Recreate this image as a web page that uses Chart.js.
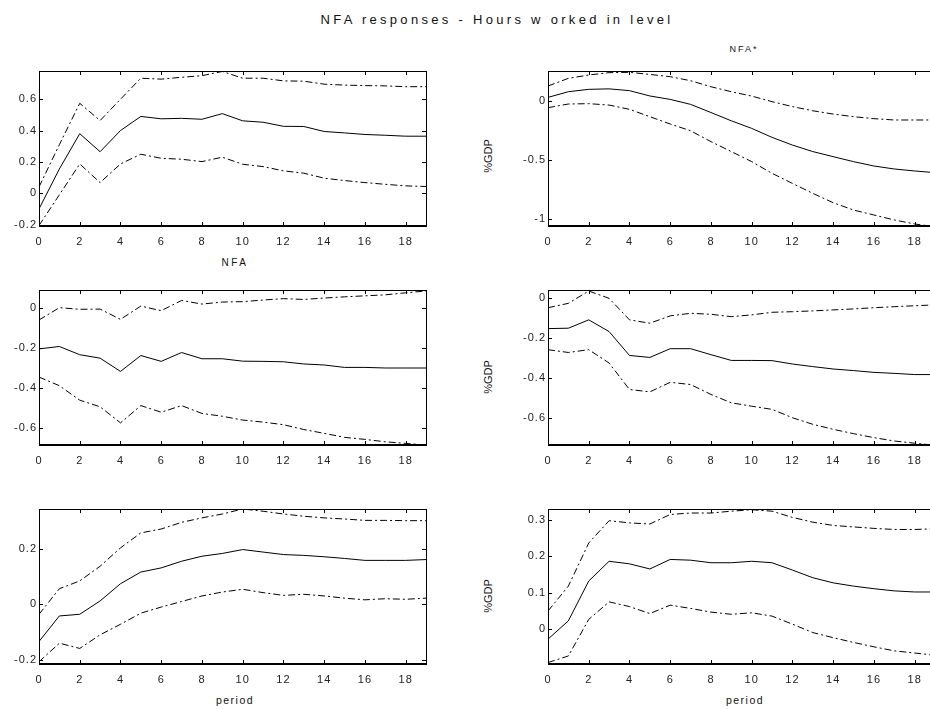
<!DOCTYPE html>
<html>
<head>
<meta charset="utf-8">
<script src="https://cdn.jsdelivr.net/npm/chart.js@4.4.1/dist/chart.umd.min.js"></script>
<style>
    html, body { margin: 0; padding: 0; background: #fff; overflow: hidden; }
    body { width: 930px; height: 709px; position: relative; font-family: "Liberation Sans", Arial, sans-serif; color: #111; }
    .panel { position: absolute; }
    .lbl { position: absolute; white-space: nowrap; transform: translate(-50%, -50%); }
    .vlbl { position: absolute; white-space: nowrap; transform: translate(-50%, -50%) rotate(-90deg); font-size: 11px; }
</style>
</head>
<body>
<div class="lbl" style="left:497px; top:19px; font-size:13px; letter-spacing:3.3px;">NFA responses - Hours w orked in level</div>
<div class="lbl" style="left:744px; top:49px; font-size:9px; letter-spacing:2px;">NFA*</div>
<div class="lbl" style="left:235px; top:262px; font-size:10px; letter-spacing:2.5px;">NFA</div>
<div class="lbl" style="left:235px; top:700px; font-size:10.5px; letter-spacing:1.5px;">period</div>
<div class="lbl" style="left:745px; top:700px; font-size:10.5px; letter-spacing:1.5px;">period</div>
<div class="vlbl" style="left:488px; top:156px;">%GDP</div>
<div class="vlbl" style="left:488px; top:377px;">%GDP</div>
<div class="vlbl" style="left:488px; top:596px;">%GDP</div>

<div class="panel" id="wrap1"><canvas id="chart1"></canvas></div>
<div class="panel" id="wrap2"><canvas id="chart2"></canvas></div>
<div class="panel" id="wrap3"><canvas id="chart3"></canvas></div>
<div class="panel" id="wrap4"><canvas id="chart4"></canvas></div>
<div class="panel" id="wrap5"><canvas id="chart5"></canvas></div>
<div class="panel" id="wrap6"><canvas id="chart6"></canvas></div>

<script>
// Horizon (periods) and x tick labels
const periods = [0, 1, 2, 3, 4, 5, 6, 7, 8, 9, 10, 11, 12, 13, 14, 15, 16, 17, 18, 19];
const xTicks = [0, 2, 4, 6, 8, 10, 12, 14, 16, 18];

// Top left - NFA
const p1Mid = [-0.10, 0.155, 0.38, 0.265, 0.40, 0.49, 0.475, 0.478, 0.472, 0.508, 0.462, 0.453, 0.427, 0.426, 0.394, 0.385, 0.375, 0.37, 0.364, 0.364];
const p1Hi = [0.04, 0.31, 0.574, 0.464, 0.60, 0.734, 0.728, 0.740, 0.750, 0.777, 0.734, 0.734, 0.717, 0.715, 0.696, 0.690, 0.687, 0.685, 0.680, 0.680];
const p1Lo = [-0.206, -0.01, 0.187, 0.068, 0.187, 0.249, 0.223, 0.217, 0.202, 0.230, 0.185, 0.170, 0.143, 0.128, 0.096, 0.081, 0.068, 0.057, 0.047, 0.043];
const p1YTicks = [-0.2, 0, 0.2, 0.4, 0.6];

// Top right - NFA*
const p2Mid = [0.028, 0.076, 0.096, 0.10, 0.085, 0.04, 0.011, -0.031, -0.10, -0.17, -0.234, -0.31, -0.375, -0.43, -0.473, -0.515, -0.552, -0.577, -0.594, -0.608];
const p2Hi = [0.124, 0.189, 0.217, 0.237, 0.24, 0.222, 0.203, 0.169, 0.118, 0.076, 0.039, -0.008, -0.05, -0.085, -0.113, -0.135, -0.152, -0.163, -0.163, -0.163];
const p2Lo = [-0.059, -0.028, -0.025, -0.037, -0.073, -0.135, -0.197, -0.254, -0.346, -0.43, -0.515, -0.614, -0.699, -0.783, -0.862, -0.924, -0.966, -1.008, -1.042, -1.065];
const p2YTicks = [-1, -0.5, 0];

// Middle left
const p3Mid = [-0.205, -0.193, -0.234, -0.251, -0.317, -0.238, -0.267, -0.223, -0.254, -0.254, -0.266, -0.267, -0.269, -0.28, -0.285, -0.297, -0.297, -0.30, -0.30, -0.30];
const p3Hi = [-0.061, 0.0, -0.008, -0.007, -0.058, 0.008, -0.015, 0.036, 0.018, 0.028, 0.03, 0.038, 0.045, 0.041, 0.048, 0.054, 0.059, 0.064, 0.074, 0.083];
const p3Lo = [-0.345, -0.388, -0.46, -0.493, -0.573, -0.487, -0.52, -0.487, -0.526, -0.54, -0.559, -0.569, -0.582, -0.606, -0.625, -0.645, -0.655, -0.667, -0.675, -0.683];
const p3YTicks = [-0.6, -0.4, -0.2, 0];

// Middle right
const p4Mid = [-0.152, -0.15, -0.108, -0.167, -0.287, -0.297, -0.253, -0.253, -0.283, -0.312, -0.312, -0.313, -0.33, -0.343, -0.355, -0.363, -0.372, -0.377, -0.383, -0.383];
const p4Hi = [-0.047, -0.025, 0.037, 0.0, -0.108, -0.125, -0.088, -0.075, -0.08, -0.092, -0.083, -0.07, -0.067, -0.063, -0.058, -0.053, -0.047, -0.042, -0.037, -0.033];
const p4Lo = [-0.258, -0.272, -0.258, -0.325, -0.458, -0.47, -0.422, -0.433, -0.483, -0.525, -0.542, -0.558, -0.6, -0.633, -0.658, -0.68, -0.7, -0.717, -0.728, -0.738];
const p4YTicks = [-0.6, -0.4, -0.2, 0];

// Bottom left
const p5Mid = [-0.134, -0.042, -0.036, 0.012, 0.074, 0.116, 0.131, 0.155, 0.173, 0.183, 0.197, 0.188, 0.179, 0.176, 0.171, 0.165, 0.158, 0.158, 0.158, 0.161];
const p5Hi = [-0.036, 0.056, 0.084, 0.137, 0.203, 0.257, 0.271, 0.295, 0.311, 0.325, 0.343, 0.335, 0.325, 0.317, 0.311, 0.307, 0.302, 0.302, 0.301, 0.301];
const p5Lo = [-0.207, -0.14, -0.159, -0.11, -0.072, -0.032, -0.01, 0.01, 0.03, 0.044, 0.054, 0.042, 0.032, 0.036, 0.03, 0.022, 0.016, 0.02, 0.018, 0.022];
const p5YTicks = [-0.2, 0, 0.2];

// Bottom right
const p6Mid = [-0.027, 0.023, 0.132, 0.186, 0.179, 0.165, 0.191, 0.189, 0.182, 0.182, 0.186, 0.182, 0.162, 0.141, 0.127, 0.118, 0.111, 0.105, 0.102, 0.102];
const p6Hi = [0.05, 0.118, 0.236, 0.297, 0.291, 0.288, 0.314, 0.318, 0.318, 0.323, 0.327, 0.323, 0.306, 0.293, 0.284, 0.28, 0.276, 0.273, 0.273, 0.275];
const p6Lo = [-0.091, -0.073, 0.027, 0.075, 0.062, 0.043, 0.066, 0.057, 0.047, 0.041, 0.045, 0.036, 0.014, -0.009, -0.023, -0.036, -0.048, -0.059, -0.065, -0.071];
const p6YTicks = [0, 0.1, 0.2, 0.3];

// Axis box with inward ticks on all four sides (matlab look)
const boxPlugin = {
    id: 'box',
    beforeDraw(chart) {
        chart.ctx.letterSpacing = '1px';
    },
    afterDraw(chart) {
        const ctx = chart.ctx;
        const a = chart.chartArea;
        const xs = chart.scales.x;
        const ys = chart.scales.y;
        const tl = 4;
        ctx.save();
        ctx.strokeStyle = '#000';
        ctx.lineWidth = 1;
        ctx.beginPath();
        xs.ticks.forEach(t => {
            const px = Math.round(xs.getPixelForValue(t.value)) + 0.5;
            ctx.moveTo(px, a.bottom); ctx.lineTo(px, a.bottom - tl);
            ctx.moveTo(px, a.top); ctx.lineTo(px, a.top + tl);
        });
        ys.ticks.forEach(t => {
            const py = Math.round(ys.getPixelForValue(t.value)) + 0.5;
            ctx.moveTo(a.left, py); ctx.lineTo(a.left + tl, py);
            ctx.moveTo(a.right, py); ctx.lineTo(a.right - tl, py);
        });
        ctx.stroke();
        ctx.strokeRect(a.left + 0.5, a.top + 0.5, a.right - a.left, a.bottom - a.top);
        // heavier bottom edge
        ctx.lineWidth = 2;
        ctx.beginPath();
        ctx.moveTo(a.left, a.bottom);
        ctx.lineTo(a.right, a.bottom);
        ctx.stroke();
        ctx.restore();
    }
};

function makePanel(id, left, top, yMin, yMax, yTicks, mid, lo, hi) {
    const plotW = 387, plotH = 155;
    const padL = 50, padT = 10, padR = 10, padB = 30;
    const wrap = document.getElementById('wrap' + id);
    wrap.style.left = (left - padL) + 'px';
    wrap.style.top = (top - padT) + 'px';
    const canvas = document.getElementById('chart' + id);
    canvas.width = plotW + padL + padR;
    canvas.height = plotH + padT + padB;

    const line = (data, dashed) => ({
        data: data,
        borderColor: '#000',
        borderWidth: 1,
        borderDash: dashed ? [7, 3, 2, 3] : [],
        pointRadius: 0,
        tension: 0,
        fill: false
    });

    return new Chart(canvas, {
        type: 'line',
        data: {
            labels: periods,
            datasets: [line(mid, false), line(hi, true), line(lo, true)]
        },
        options: {
            responsive: false,
            animation: false,
            events: [],
            layout: { padding: { top: padT, right: padR, left: 0, bottom: 0 } },
            plugins: { legend: { display: false }, tooltip: { enabled: false } },
            scales: {
                x: {
                    type: 'linear',
                    min: 0,
                    max: 19,
                    afterFit(s) { s.height = padB; },
                    afterBuildTicks(s) { s.ticks = xTicks.map(v => ({ value: v })); },
                    grid: { display: false, drawTicks: false },
                    border: { display: false },
                    ticks: {
                        color: '#222',
                        padding: 9,
                        maxRotation: 0,
                        autoSkip: false,
                        font: { family: '"Liberation Sans", Arial, sans-serif', size: 11 },
                        callback: v => String(v)
                    }
                },
                y: {
                    min: yMin,
                    max: yMax,
                    afterFit(s) { s.width = padL; },
                    afterBuildTicks(s) { s.ticks = yTicks.map(v => ({ value: v })); },
                    grid: { display: false, drawTicks: false },
                    border: { display: false },
                    ticks: {
                        color: '#222',
                        padding: 2,
                        autoSkip: false,
                        font: { family: '"Liberation Sans", Arial, sans-serif', size: 11 },
                        callback: v => String(v)
                    }
                }
            }
        },
        plugins: [boxPlugin]
    });
}

makePanel(1, 39, 71, -0.209, 0.78, p1YTicks, p1Mid, p1Lo, p1Hi);
makePanel(2, 548, 71, -1.059, 0.251, p2YTicks, p2Mid, p2Lo, p2Hi);
makePanel(3, 39, 290, -0.683, 0.088, p3YTicks, p3Mid, p3Lo, p3Hi);
makePanel(4, 548, 290, -0.737, 0.042, p4YTicks, p4Mid, p4Lo, p4Hi);
makePanel(5, 39, 509, -0.215, 0.343, p5YTicks, p5Mid, p5Lo, p5Hi);
makePanel(6, 548, 509, -0.095, 0.329, p6YTicks, p6Mid, p6Lo, p6Hi);
</script>
</body>
</html>
